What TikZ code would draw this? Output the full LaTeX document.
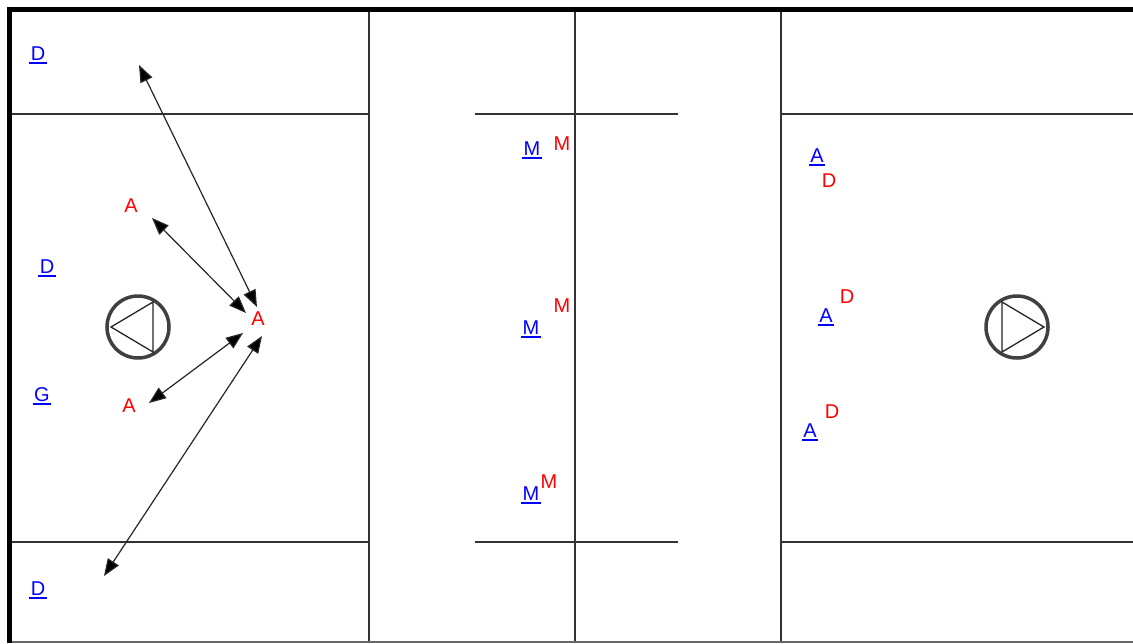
\documentclass[tikz,border=0pt]{standalone}
\usepackage{fontspec}
\setmainfont{Liberation Sans}
\usetikzlibrary{arrows.meta}
\newcommand\ublu[1]{\leavevmode\setbox0\hbox{#1}\rlap{\smash{\kern-1.5pt\raisebox{-3.5pt}{\rule{\dimexpr\wd0+3pt\relax}{2.3pt}}}}\box0}
\begin{document}
\begin{tikzpicture}[x=1pt,y=-1pt,
  fld/.style={line width=2pt, draw=black!80},
  bord/.style={line width=5pt, draw=black, line join=miter},
  rtxt/.style={text=red, font=\fontsize{20}{20}\selectfont, inner sep=0pt},
  btxt/.style={text=blue, font=\fontsize{20}{20}\selectfont, inner sep=0pt},
  mv/.style={line width=1.2pt, draw=black!85, {Triangle[length=17pt,width=13pt,fill=black]}-{Triangle[length=17pt,width=13pt,fill=black]}},
  goalc/.style={line width=3.5pt, draw=black!75},
  goalt/.style={line width=1.3pt, draw=black!85, line join=miter}
]
\useasboundingbox (0,0) rectangle (1133,643);
\fill[white] (0,0) rectangle (1133,643);
% field lines
\draw[fld] (10,114) -- (369,114);
\draw[fld] (10,542) -- (369,542);
\draw[fld] (369,9) -- (369,643);
\draw[fld] (575,9) -- (575,643);
\draw[fld] (781,9) -- (781,643);
\draw[fld] (781,114) -- (1133,114);
\draw[fld] (781,542) -- (1133,542);
\draw[fld] (475,114) -- (678,114);
\draw[fld] (475,542) -- (678,542);
\draw[line width=2pt, draw=black!60] (10,642) -- (1133,642);
\draw[bord] (9.5,643) -- (9.5,9.5) -- (1133,9.5);
% goals
\draw[goalc] (138,327) circle[radius=31];
\draw[goalt] (111,327) -- (153,302) -- (153,352) -- cycle;
\draw[goalc] (1017,327) circle[radius=31];
\draw[goalt] (1002,302) -- (1044,327) -- (1002,352) -- cycle;
% blue players
\node[btxt] (d1) at (38,54) {\ublu{D}};
\node[btxt] (d2) at (47,267) {\ublu{D}};
\node[btxt] (g) at (42,395) {\ublu{G}};
\node[btxt] (d3) at (38,589) {\ublu{D}};
\node[btxt] (m1) at (532,149) {\ublu{M}};
\node[btxt] (m2) at (531,328) {\ublu{M}};
\node[btxt] (m3) at (531,494) {\ublu{M}};
\node[btxt] (a1) at (817,156) {\ublu{A}};
\node[btxt] (a2) at (826,316) {\ublu{A}};
\node[btxt] (a3) at (810,431) {\ublu{A}};
% red players
\node[rtxt] (ra1) at (131,206) {A};
\node[rtxt] (ra2) at (129,406) {A};
\node[rtxt] (raC) at (258,319) {A};
\node[rtxt] (rm1) at (562,144) {M};
\node[rtxt] (rm2) at (562,306) {M};
\node[rtxt] (rm3) at (549,482) {M};
\node[rtxt] (rd1) at (829,181) {D};
\node[rtxt] (rd2) at (847,297) {D};
\node[rtxt] (rd3) at (832,412) {D};
% movement arrows
\coordinate (t1s) at (139,65);
\coordinate (t1e) at (257,307);
\coordinate (t2s) at (152,218);
\coordinate (t2e) at (246,313);
\coordinate (t3s) at (149,403);
\coordinate (t3e) at (243,333);
\coordinate (t4s) at (104,576);
\coordinate (t4e) at (262,336);
\draw[mv] (t1s) -- (t1e);
\draw[mv] (t2s) -- (t2e);
\draw[mv] (t3s) -- (t3e);
\draw[mv] (t4s) -- (t4e);
\end{tikzpicture}
\end{document}
